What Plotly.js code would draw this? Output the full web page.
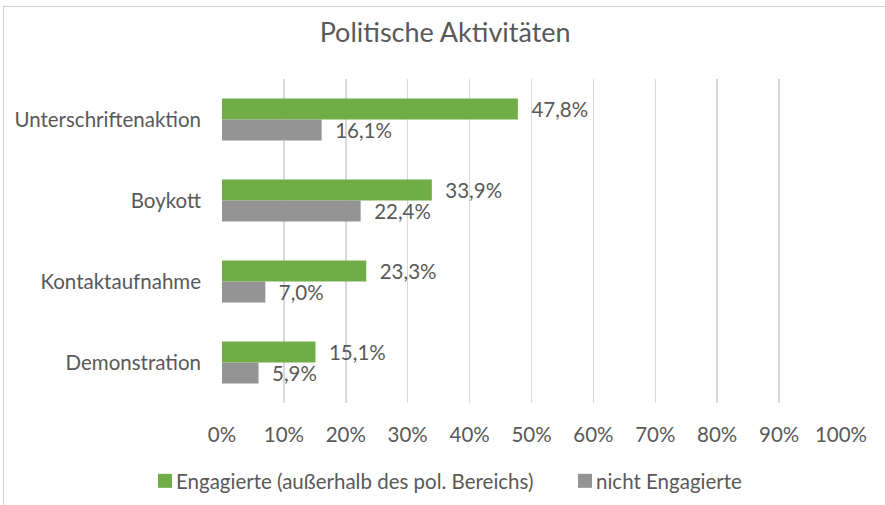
<!DOCTYPE html>
<html><head><meta charset="utf-8">
<script src="https://cdn.plot.ly/plotly-3.0.1.min.js"></script>
<style>
html,body{margin:0;padding:0;background:#fff;}
#wrap{position:relative;width:885px;height:505px;overflow:hidden;}
#chart{width:885px;height:505px;}
#frame{position:absolute;left:3px;top:6px;width:890px;height:520px;border:1px solid #d0d0d0;pointer-events:none;box-sizing:border-box;}
</style></head>
<body>
<div id="wrap"><div id="chart"></div><div id="frame"></div></div>
<script>
const categories = ["Unterschriftenaktion", "Boykott", "Kontaktaufnahme", "Demonstration"];
const seriesNames = ["Engagierte (außerhalb des pol. Bereichs)", "nicht Engagierte"];
const engagierte = [47.8, 33.9, 23.3, 15.1];
const nichtEngagierte = [16.1, 22.4, 7.0, 5.9];
const tickVals = [0,10,20,30,40,50,60,70,80,90,100];
const tickText = ["0%","10%","20%","30%","40%","50%","60%","70%","80%","90%","100%"];

const FONT = "Lato, 'Open Sans', sans-serif";
const TXT = "#595959";
const FS = 20.5;

const traces = [
  {type:'bar', orientation:'h', name:seriesNames[0], y:categories, x:engagierte,
   marker:{color:'#70AD47'}, texttemplate:'\u00a0\u00a0%{x:.1f}%', textposition:'outside', constraintext:'none',
   textfont:{size:FS, color:TXT, family:FONT}, cliponaxis:false, hoverinfo:'skip'},
  {type:'bar', orientation:'h', name:seriesNames[1], y:categories, x:nichtEngagierte,
   marker:{color:'#949494'}, texttemplate:'\u00a0\u00a0%{x:.1f}%', textposition:'outside', constraintext:'none',
   textfont:{size:FS, color:TXT, family:FONT}, cliponaxis:false, hoverinfo:'skip'}
];

const layout = {
  width:885, height:505,
  margin:{l:222, r:44, t:79, b:102},
  paper_bgcolor:'#fff', plot_bgcolor:'#fff',
  separators:',.',
  font:{family:FONT, color:TXT, size:FS},
  title:{text:'Politische Aktivitäten', x:0.503, xanchor:'center', y:1-33/505, yanchor:'middle', yref:'container',
         font:{size:27, color:TXT, family:FONT}},
  barmode:'group', bargap:0.48, bargroupgap:0,
  xaxis:{range:[0,100], tickvals:tickVals, ticktext:tickText, showgrid:true, gridcolor:'#d9d9d9', gridwidth:1.5,
         zeroline:false, showline:false, ticks:'', ticklabelstandoff:17, tickfont:{size:FS, color:TXT}, fixedrange:true},
  yaxis:{categoryorder:'array', categoryarray:categories, autorange:'reversed', showgrid:false, zeroline:false,
         showline:false, ticks:'', ticklabelstandoff:20, tickfont:{size:FS, color:TXT}, fixedrange:true},
  showlegend:true,
  legend:{orientation:'h', x:0.5, xanchor:'center', xref:'container', y:1-481/505, yref:'container', yanchor:'middle',
          font:{size:FS, color:TXT}, traceorder:'normal'}
};

Plotly.newPlot('chart', traces, layout, {displayModeBar:false, staticPlot:true}).then(function(gd){
  // tighten legend: symbol close to text, place entries like the reference
  const leg = gd.querySelector('g.legend');
  if (!leg) return;
  const m = /translate\(([-\d.]+)[ ,]+([-\d.]+)\)/.exec(leg.getAttribute('transform') || '');
  const lx = m ? parseFloat(m[1]) : 0;
  const centers = [165, 585];
  leg.querySelectorAll('g.traces').forEach(function(g, i){
    const t = g.querySelector('text.legendtext');
    if (t) t.setAttribute('x', 31);
    const mm = /translate\(([-\d.]+)[ ,]+([-\d.]+)\)/.exec(g.getAttribute('transform') || '');
    const gy = mm ? parseFloat(mm[2]) : 0;
    if (centers[i] !== undefined) g.setAttribute('transform', 'translate(' + (centers[i] - lx - 20) + ',' + gy + ')');
  });
  leg.querySelectorAll('g.legendpoints path').forEach(function(p){
    p.setAttribute('d', 'M7,7H-7V-7H7Z');
  });
  const bg = leg.querySelector('rect.bg');
  if (bg) bg.setAttribute('width', 900);
  const sc = leg.querySelector('.scrollbox');
  if (sc) sc.removeAttribute('clip-path');
});
</script>
</body></html>
